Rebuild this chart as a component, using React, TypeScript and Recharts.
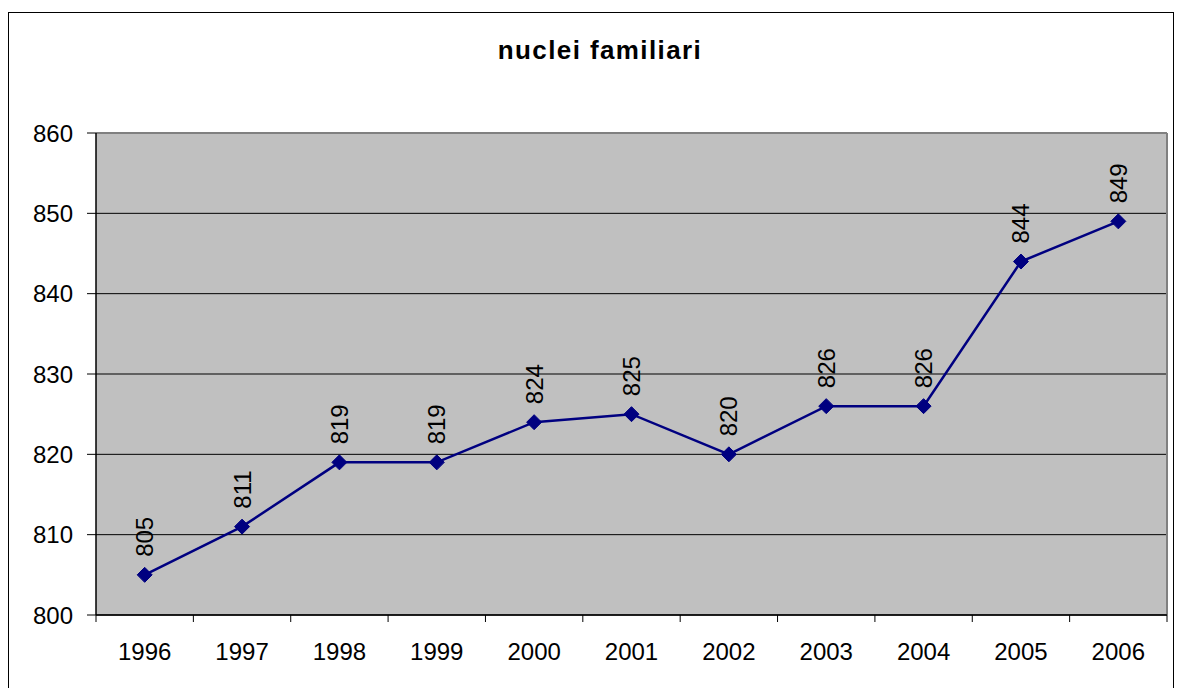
import { LineChart, Line, XAxis, YAxis, CartesianGrid, LabelList, ReferenceLine } from 'recharts';

const years = ['1996', '1997', '1998', '1999', '2000', '2001', '2002', '2003', '2004', '2005', '2006'];
const families = [805, 811, 819, 819, 824, 825, 820, 826, 826, 844, 849];
const yTicks = [800, 810, 820, 830, 840, 850, 860];

const FONT = '"Liberation Sans", Arial, sans-serif';
const W = 1177;
const H = 688;
const PLOT_LEFT = 96;
const PLOT_RIGHT = 1167;
const PLOT_TOP = 133;
const PLOT_BOTTOM = 615;
const Y_AXIS_W = 90;
const X_AXIS_H = 50;
const BAND = (PLOT_RIGHT - PLOT_LEFT) / years.length;

const data = years.map((year, i) => ({ x: i + 0.5, year, v: families[i] }));
const xTicks = years.map((_, i) => i).concat(years.length);

const YearTick = (props: any) => {
  const { x, y, payload } = props;
  const idx = payload.value;
  if (idx >= years.length) return null;
  return (
    <text x={x + BAND / 2} y={y + 36} textAnchor="middle" fontSize={24} fontFamily={FONT} fill="#000">
      {years[idx]}
    </text>
  );
};

const Diamond = (props: any) => {
  const { cx, cy } = props;
  if (cx == null || cy == null) return null;
  const r = 7.5;
  return (
    <path
      d={`M${cx},${cy - r}L${cx + r},${cy}L${cx},${cy + r}L${cx - r},${cy}Z`}
      fill="#000080"
      stroke="#000080"
    />
  );
};

const VerticalLabel = (props: any) => {
  const { x, y, value } = props;
  const lx = x;
  const ly = y - 18;
  return (
    <text
      x={lx}
      y={ly}
      transform={`rotate(-90 ${lx} ${ly})`}
      textAnchor="start"
      dominantBaseline="central"
      fontSize={24}
      fontFamily={FONT}
      fill="#000"
    >
      {value}
    </text>
  );
};

export default function App() {
  return (
    <div style={{ position: 'absolute', left: 0, top: 0, width: W, height: H, overflow: 'hidden', background: '#fff' }}>
      <div
        style={{
          position: 'absolute',
          left: 8,
          top: 11.5,
          width: 1164,
          height: 800,
          border: '1.5px solid #000',
        }}
      />
      <div
        style={{
          position: 'absolute',
          left: 0,
          top: 37,
          width: 1200,
          textAlign: 'center',
          fontFamily: FONT,
          fontWeight: 'bold',
          fontSize: 26,
          lineHeight: '26px',
          letterSpacing: 1.4,
          color: '#000',
        }}
      >
        nuclei familiari
      </div>
      <div style={{ position: 'absolute', left: 0, top: 0 }}>
        <LineChart
          width={W}
          height={H}
          data={data}
          margin={{
            top: PLOT_TOP,
            right: W - PLOT_RIGHT,
            left: PLOT_LEFT - Y_AXIS_W,
            bottom: H - PLOT_BOTTOM - X_AXIS_H,
          }}
        >
          <CartesianGrid vertical={false} stroke="#000" strokeWidth={1} fill="#C0C0C0" fillOpacity={1} />
          <XAxis
            dataKey="x"
            type="number"
            domain={[0, years.length]}
            ticks={xTicks}
            interval={0}
            height={X_AXIS_H}
            tickSize={7}
            tickLine={{ stroke: '#000' }}
            axisLine={{ stroke: '#000', strokeWidth: 1.5 }}
            tick={<YearTick />}
          />
          <YAxis
            type="number"
            domain={[800, 860]}
            ticks={yTicks}
            interval={0}
            width={Y_AXIS_W}
            tickSize={9}
            tickMargin={14}
            tickLine={{ stroke: '#000' }}
            axisLine={{ stroke: '#000', strokeWidth: 1.5 }}
            tick={{ fontSize: 24, fontFamily: FONT, fill: '#000' }}
          />
          <ReferenceLine y={860} stroke="#808080" strokeWidth={2} />
          <ReferenceLine x={years.length} stroke="#808080" strokeWidth={2} />
          <Line
            type="linear"
            dataKey="v"
            stroke="#000080"
            strokeWidth={2.5}
            dot={<Diamond />}
            activeDot={false}
            isAnimationActive={false}
          >
            <LabelList dataKey="v" content={<VerticalLabel />} />
          </Line>
        </LineChart>
      </div>
    </div>
  );
}
